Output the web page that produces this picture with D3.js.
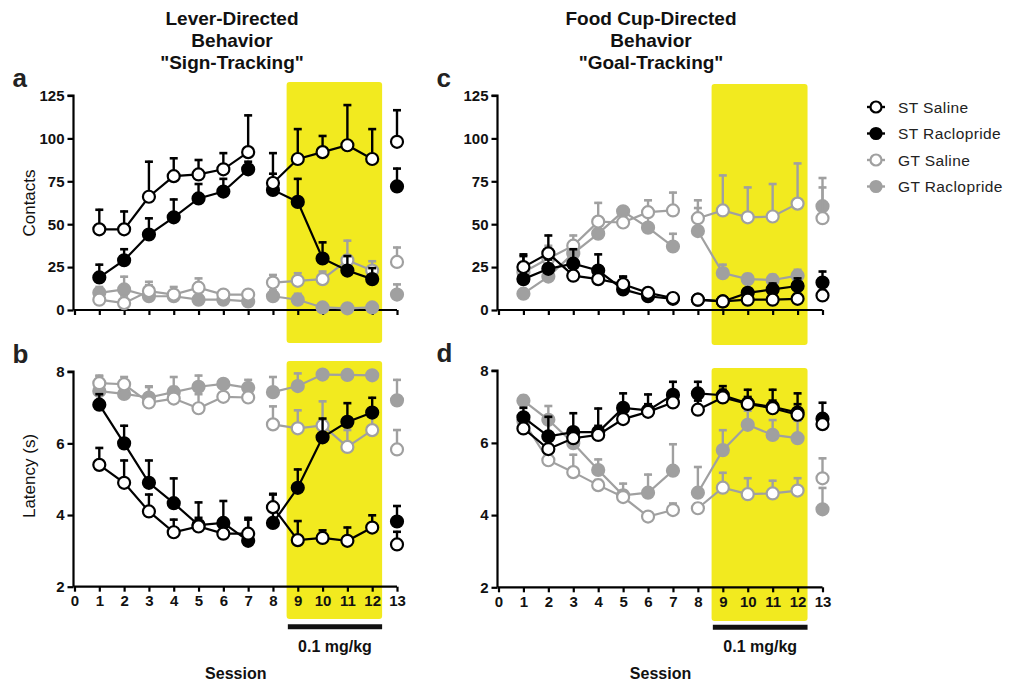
<!DOCTYPE html>
<html><head><meta charset="utf-8">
<script src="https://cdn.jsdelivr.net/npm/d3@7"></script>
<style>
body{margin:0;background:#fff;}
svg{display:block;font-family:"Liberation Sans Narrow","Arial Narrow","Liberation Sans",Arial,sans-serif;}
</style></head>
<body><svg id="c" width="1023" height="685"></svg>
<script>
// ---------- data ----------
const sessions = [1,2,3,4,5,6,7,8,9,10,11,12,13];
const xTicks = [0,1,2,3,4,5,6,7,8,9,10,11,12,13];
const contactTicks = [0,25,50,75,100,125];
const latencyTicks = [2,4,6,8];
const seriesNames = ["ST Saline","ST Raclopride","GT Saline","GT Raclopride"];
const segments = [[1,7],[8,12],[13,13]];

// panel a: lever contacts
const aSTSal  = [47,47,66,78,79,82,92,74,88,92,96,88,98];
const aSTSalE = [59,58,87,89,88,92,114,92,106,102,120,106,117];
const aSTRac  = [19,29,44,54,65,69,82,70,63,30,23,18,72];
const aSTRacE = [27,36,54,65,74,77,87,80,77,40,32,25,83];
const aGTSal  = [6,4,11,9,13,9,9,16,17,18,29,23,28];
const aGTSalE = [12,9,17,14,19,12,12,21,22,23,41,29,37];
const aGTRac  = [10,12,8,8,6,6,5,8,6,1.5,1,1.5,9];
const aGTRacE = [14,20,15,12,11,9,8,12,10,3,3,3,15.5];

// panel b: lever latency
const bSTSal  = [5.4,4.9,4.1,3.52,3.68,3.48,3.48,4.22,3.3,3.36,3.28,3.65,3.18];
const bSTSalE = [5.9,5.55,4.6,3.9,3.95,3.8,3.9,4.62,3.86,3.6,3.68,4.02,3.56];
const bSTRac  = [7.08,6.0,4.9,4.33,3.72,3.78,3.28,3.78,4.76,6.17,6.6,6.86,3.82];
const bSTRacE = [7.4,6.52,5.55,5.05,4.38,4.42,3.95,4.6,5.3,6.72,7.15,7.3,4.28];
const bGTSal  = [7.68,7.65,7.14,7.25,6.98,7.3,7.28,6.53,6.42,6.5,5.9,6.37,5.83];
const bGTSalE = [7.92,7.88,7.6,7.6,7.4,7.6,7.55,7.06,6.95,7.2,6.4,6.9,6.4];
const bGTRac  = [7.46,7.38,7.28,7.43,7.58,7.66,7.55,7.43,7.6,7.92,7.91,7.9,7.2];
const bGTRacE = [7.9,7.75,7.62,7.88,7.92,7.8,7.8,7.88,7.98,7.95,7.94,7.93,7.8];

// panel c: food cup contacts
const cSTSal  = [25,33,20,18,15,10,7,6,5,6,6,6.5,8.5];
const cSTSalE = [32,44,27,24,20,13,10,9,7,9,9,10,12];
const cSTRac  = [18,24,27,23,12,8,6.5,6,5,10,12,14,16];
const cSTRacE = [33,30,36,33,20,11,9,9,7,13,16,19,23];
const cGTSal  = [22,30,37.5,51.5,51,57,58,53.5,58,54,54.5,62,53.5];
const cGTSalE = [28,38,44,63,57,64.5,69,64.5,79,72,74,86,72];
const cGTRac  = [9.5,19.5,33,44.5,57.5,48,37,46,21.5,18,17.5,20,60.5];
const cGTRacE = [12,24,40,52,60,55,45,60,27,21.5,21,24,77.5];

// panel d: food cup latency
const dSTSal  = [6.4,5.83,6.13,6.22,6.66,6.86,7.12,6.92,7.26,7.08,6.96,6.78,6.52];
const dSTSalE = [6.6,6.1,6.4,6.5,6.9,7.1,7.35,7.2,7.5,7.3,7.2,7.1,6.8];
const dSTRac  = [6.71,6.18,6.3,6.3,6.97,6.9,7.33,7.37,7.32,7.1,7.0,6.84,6.67];
const dSTRacE = [7.0,6.75,6.85,6.98,7.4,7.37,7.72,7.72,7.6,7.5,7.5,7.4,7.14];
const dGTSal  = [6.6,5.52,5.19,4.83,4.5,3.96,4.14,4.19,4.76,4.58,4.6,4.68,5.02];
const dGTSalE = [6.8,5.7,5.7,5.0,4.7,4.1,4.35,4.35,5.2,5.05,4.98,5.05,5.6];
const dGTRac  = [7.17,6.64,5.99,5.25,4.55,4.62,5.23,4.62,5.8,6.5,6.22,6.13,4.16];
const dGTRacE = [7.33,7.05,6.4,5.57,4.9,5.15,5.99,5.36,6.38,6.92,6.66,6.64,4.78];

const drugSessions = [8.55, 12.4];
const drugLabel = "0.1 mg/kg";

// ---------- styles ----------
const BLACK = "#000", GRAY = "#a0a0a0", YELLOW = "#f2ea1f";
const styles = {
  "ST Saline":     {stroke: BLACK, fill: "#fff"},
  "ST Raclopride": {stroke: BLACK, fill: BLACK},
  "GT Saline":     {stroke: GRAY,  fill: "#fff"},
  "GT Raclopride": {stroke: GRAY,  fill: GRAY}
};
const drawOrder = ["GT Raclopride","GT Saline","ST Raclopride","ST Saline"];

const panels = [
  {label:"a", x0:74.5, x1:397, y0:310, y1:95.5, domain:[0,125], ticks:contactTicks, xLabels:false,
   yTitle:"Contacts", yTitleY:203,
   series:{"ST Saline":[aSTSal,aSTSalE],"ST Raclopride":[aSTRac,aSTRacE],"GT Saline":[aGTSal,aGTSalE],"GT Raclopride":[aGTRac,aGTRacE]},
   band:[82,343]},
  {label:"b", x0:74.5, x1:397, y0:586.7, y1:371.7, domain:[2,8], ticks:latencyTicks, xLabels:true,
   yTitle:"Latency (s)", yTitleY:476,
   series:{"ST Saline":[bSTSal,bSTSalE],"ST Raclopride":[bSTRac,bSTRacE],"GT Saline":[bGTSal,bGTSalE],"GT Raclopride":[bGTRac,bGTRacE]},
   band:[361,619]},
  {label:"c", x0:498.5, x1:822.5, y0:310, y1:95.5, domain:[0,125], ticks:contactTicks, xLabels:false,
   yTitle:null,
   series:{"ST Saline":[cSTSal,cSTSalE],"ST Raclopride":[cSTRac,cSTRacE],"GT Saline":[cGTSal,cGTSalE],"GT Raclopride":[cGTRac,cGTRacE]},
   band:[84,345]},
  {label:"d", x0:498.5, x1:822.5, y0:587.3, y1:370.7, domain:[2,8], ticks:latencyTicks, xLabels:true,
   yTitle:null,
   series:{"ST Saline":[dSTSal,dSTSalE],"ST Raclopride":[dSTRac,dSTRacE],"GT Saline":[dGTSal,dGTSalE],"GT Raclopride":[dGTRac,dGTRacE]},
   band:[368,621]}
];

const svg = d3.select("#c");

// titles
const titles = [
  {x:232, lines:["Lever-Directed","Behavior","\"Sign-Tracking\""]},
  {x:651, lines:["Food Cup-Directed","Behavior","\"Goal-Tracking\""]}
];
titles.forEach(t=>{
  t.lines.forEach((l,i)=>{
    svg.append("text").attr("x",t.x).attr("y",25+i*22).attr("text-anchor","middle")
      .attr("font-size",19).attr("font-weight","bold").attr("fill","#111").text(l);
  });
});

panels.forEach(p=>{
  const x = d3.scaleLinear().domain([0,13]).range([p.x0,p.x1]);
  const y = d3.scaleLinear().domain(p.domain).range([p.y0,p.y1]);
  const g = svg.append("g");

  // yellow band
  g.append("rect").attr("x",x(drugSessions[0])).attr("width",x(drugSessions[1])-x(drugSessions[0]))
    .attr("y",p.band[0]).attr("height",p.band[1]-p.band[0]).attr("rx",3).attr("fill",YELLOW);

  // panel letter
  svg.append("text").attr("x",p.x0-62).attr("y",p.y1-9).attr("font-size",26).attr("font-weight","bold")
    .attr("font-family","Liberation Sans, Arial, sans-serif").attr("fill","#222").text(p.label);

  // y axis
  const ya = g.append("g").attr("transform",`translate(${p.x0-1},0)`)
    .call(d3.axisLeft(y).tickValues(p.ticks).tickSize(6).tickPadding(3).tickFormat(d3.format("d")));
  ya.select(".domain").attr("stroke","#000").attr("stroke-width",2.2).attr("d",`M-6,${p.y1}H0V${p.y0}`);
  ya.selectAll(".tick line").attr("stroke","#000").attr("stroke-width",2.2);
  ya.selectAll(".tick text").attr("font-size",15).attr("font-weight","bold").attr("fill","#111")
    .attr("font-family",null);

  // x axis
  const xa = g.append("g").attr("transform",`translate(0,${p.y0})`)
    .call(d3.axisBottom(x).tickValues(xTicks).tickSize(5).tickPadding(4).tickFormat(p.xLabels? d3.format("d") : ""));
  xa.select(".domain").attr("stroke","#000").attr("stroke-width",2.2).attr("d",`M${x(0)-1},0H${x(13)}`);
  xa.selectAll(".tick line").attr("stroke","#000").attr("stroke-width",2.2);
  xa.selectAll(".tick text").attr("font-size",15).attr("font-weight","bold").attr("fill","#111")
    .attr("font-family",null);

  if (p.yTitle) {
    svg.append("text").attr("transform",`translate(${p.x0-40},${p.yTitleY}) rotate(-90)`)
      .attr("text-anchor","middle").attr("font-size",17).attr("fill","#111")
      .attr("font-family","Liberation Sans, Arial, sans-serif").text(p.yTitle);
  }

  if (p.xLabels) {
    g.append("line").attr("x1",x(8.6)).attr("x2",x(12.4)).attr("y1",p.y0+40).attr("y2",p.y0+40)
      .attr("stroke","#111").attr("stroke-width",5);
    g.append("text").attr("x",x(10.5)).attr("y",p.y0+65).attr("text-anchor","middle")
      .attr("font-size",16).attr("font-weight","bold").attr("fill","#111").text(drugLabel);
    g.append("text").attr("x",x(6.5)).attr("y",p.y0+92).attr("text-anchor","middle")
      .attr("font-size",16).attr("font-weight","bold").attr("fill","#111").text("Session");
  }

  // series
  drawOrder.forEach(name=>{
    const st = styles[name];
    const [vals, errs] = p.series[name];
    const pts = sessions.map((s,i)=>({s, v:vals[i], e:errs[i]}));
    const sg = g.append("g");
    const line = d3.line().x(d=>x(d.s)).y(d=>y(d.v));
    segments.forEach(([a,b])=>{
      const seg = pts.filter(d=>d.s>=a && d.s<=b);
      if (seg.length>1) sg.append("path").attr("d",line(seg)).attr("fill","none")
        .attr("stroke",st.stroke).attr("stroke-width",2.2);
    });
    // error bars (upper only)
    sg.selectAll(".eb").data(pts.filter(d=>d.e>d.v)).join("g").each(function(d){
      const e = d3.select(this);
      e.append("line").attr("x1",x(d.s)).attr("x2",x(d.s)).attr("y1",y(d.v)).attr("y2",y(d.e))
        .attr("stroke",st.stroke).attr("stroke-width",2.4);
      e.append("line").attr("x1",x(d.s)-4).attr("x2",x(d.s)+4).attr("y1",y(d.e)+1).attr("y2",y(d.e)+1)
        .attr("stroke",st.stroke).attr("stroke-width",2.6);
    });
    sg.selectAll("circle").data(pts).join("circle").attr("cx",d=>x(d.s)).attr("cy",d=>y(d.v))
      .attr("r",6).attr("fill",st.fill).attr("stroke",st.stroke).attr("stroke-width",2.2);
  });
});

// legend
const lg = svg.append("g");
seriesNames.forEach((name,i)=>{
  const st = styles[name];
  const yy = 107 + i*26.5;
  lg.append("line").attr("x1",867).attr("x2",885).attr("y1",yy).attr("y2",yy)
    .attr("stroke",st.stroke).attr("stroke-width",2.4);
  lg.append("circle").attr("cx",876).attr("cy",yy).attr("r",5.5).attr("fill",st.fill)
    .attr("stroke",st.stroke).attr("stroke-width",2.2);
  lg.append("text").attr("x",898).attr("y",yy+5.5).attr("font-size",15.5)
    .attr("font-family","Liberation Sans, Arial, sans-serif").attr("letter-spacing",0.4)
    .attr("fill","#222").text(name);
});
</script></body></html>
